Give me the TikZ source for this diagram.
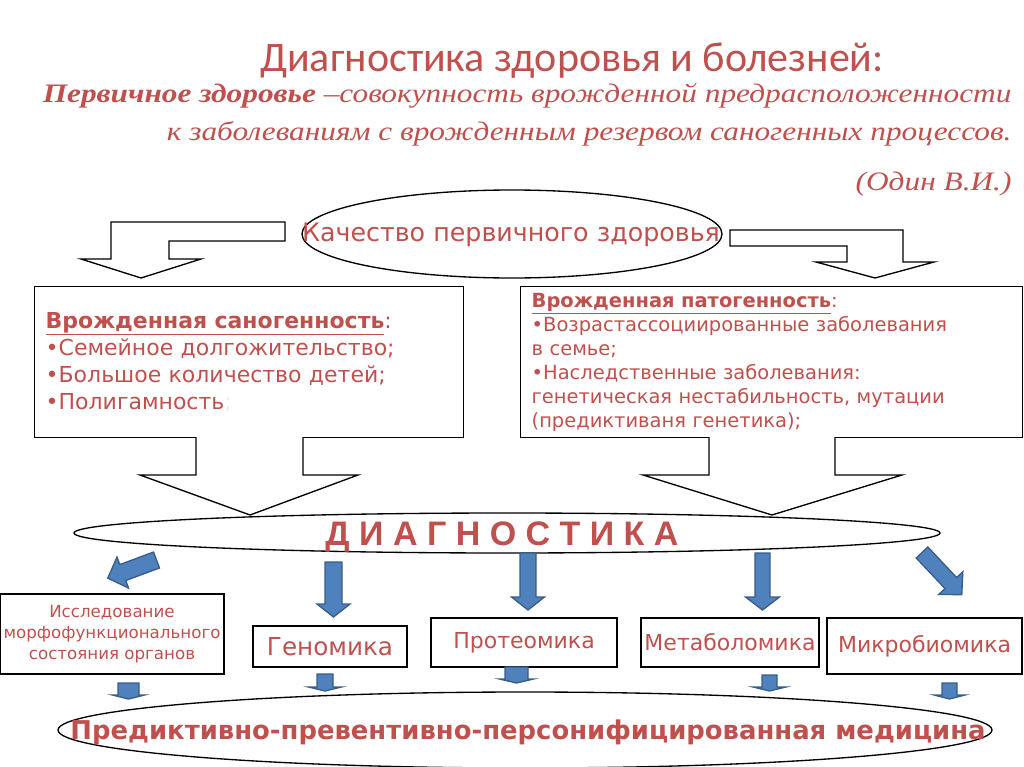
\documentclass[tikz,border=0pt]{standalone}
\usepackage{fontspec}
\setmainfont{DejaVu Sans}
\newfontfamily\titlefont{Carlito}
\newfontfamily\quotefont[FakeStretch=1.175]{Liberation Serif}
\newfontfamily\capsfont{Liberation Sans}
\usetikzlibrary{shapes.geometric}

\definecolor{txtred}{RGB}{192,80,77}
\definecolor{arrblue}{RGB}{79,129,189}
\definecolor{arredge}{RGB}{56,93,138}

\tikzset{every picture/.style={line width=0.75pt}}
\tikzset{
  box/.style={draw, line width=1pt, inner sep=0pt, text=txtred},
  oval/.style={draw, ellipse, line width=1pt, inner sep=0pt},
  hollow/.style={draw, fill=white, line width=1pt, line join=miter},
  bluearr/.style={draw=arredge, fill=arrblue, line width=1pt, line join=miter},
  pics/blockarr/.style n args={4}{code={
    \draw[bluearr] (0,-#2) -- (#1-#4,-#2) -- (#1-#4,-#3) -- (#1,0) -- (#1-#4,#3) -- (#1-#4,#2) -- (0,#2) -- cycle;
  }},
}

\begin{document}
\begin{tikzpicture}[x=0.75pt,y=0.75pt,yscale=-1,xscale=1]
	\useasboundingbox (0,0) rectangle (1024,767);

	% Text Node
	\node[text=txtred, font=\titlefont\fontsize{31.5}{36}\selectfont] (title) at (572,61) {Диагностика здоровья и болезней:};
	% Text Node
	\node[anchor=east, inner sep=0pt, text=txtred, font=\quotefont\itshape\fontsize{20}{24}\selectfont] (def1) at (1012,96) {\textbf{Первичное здоровье} –совокупность врожденной предрасположенности};
	% Text Node
	\node[anchor=east, inner sep=0pt, text=txtred, font=\quotefont\itshape\fontsize{20}{24}\selectfont] (def2) at (1012,134) {к заболеваниям с врожденным резервом саногенных процессов.};
	% Text Node
	\node[anchor=east, inner sep=0pt, text=txtred, font=\quotefont\itshape\fontsize{20}{24}\selectfont] (author) at (1012,184) {(Один В.И.)};

	%Shape: Ellipse
	\node[oval, minimum width=315pt, minimum height=66pt] (quality) at (512,234) {};
	% Text Node
	\node[text=txtred, font=\fontsize{19}{22}\selectfont] (qualitytxt) at (511,235) {Качество первичного здоровья};

	%Shape: Bent Arrow (left)
	\draw[hollow] (285,222) -- (111,222) -- (111,259) -- (81,259) -- (141,278) -- (201,259) -- (169,259) -- (169,241) -- (285,241) -- cycle;
	%Shape: Bent Arrow (right)
	\draw[hollow] (730,230) -- (903,230) -- (903,262) -- (934,262) -- (875,278) -- (816,262) -- (847,262) -- (847,246) -- (730,246) -- cycle;

	%Shape: Rectangle
	\node[box, anchor=north west, text width=305.25pt, inner xsep=8.25pt, minimum height=113.25pt, align=left, font=\fontsize{16.5}{20.3}\selectfont] (sano) at (34,286) {\underline{\textbf{Врожденная саногенность}}:\\•Семейное долгожительство;\\•Большое количество детей;\\•Полигамность\textcolor{black!8}{;}};
	%Shape: Rectangle
	\node[box, anchor=north west, text width=360pt, inner xsep=8.25pt, minimum height=113.25pt, align=left, font=\fontsize{14.6}{18}\selectfont] (pato) at (520,286) {\underline{\textbf{Врожденная патогенность}}:\\•Возрастассоциированные заболевания\\в семье;\\•Наследственные заболевания:\\генетическая нестабильность, мутации\\(предиктиваня генетика);};

	%Shape: Down Arrow
	\draw[hollow] (196,437) -- (196,475) -- (140,475) -- (250,515) -- (358,475) -- (303,475) -- (303,437);
	%Shape: Down Arrow
	\draw[hollow] (709,437) -- (709,475) -- (643,475) -- (772,515) -- (902,475) -- (835,475) -- (835,437);

	%Shape: Ellipse
	\node[oval, minimum width=649.5pt, minimum height=30pt] (diag) at (507,533) {};
	% Text Node
	\node[text=txtred, font=\capsfont\bfseries\fontsize{25.5}{28}\selectfont] (diagtxt) at (502,537) {Д И А Г Н О С Т И К А};

	%Block Arrows
	\pic[rotate=-159.6] at (156.5,560) {blockarr={52}{8.5}{16.5}{16}};
	\pic[rotate=-90] at (333.5,562) {blockarr={55}{8.5}{16.5}{13}};
	\pic[rotate=-90] at (528,553) {blockarr={57}{8}{16.5}{13}};
	\pic[rotate=-90] at (762.5,553) {blockarr={57}{7.5}{17}{13}};
	\pic[rotate=-46.7] at (922,552.5) {blockarr={58}{8}{16.5}{16}};

	%Shape: Rectangle
	\node[box, minimum width=168pt, minimum height=60pt, align=center, font=\fontsize{12.5}{15.75}\selectfont] (morph) at (112,634) {Исследование\\морфофункционального\\состояния органов};
	%Shape: Rectangle
	\node[box, minimum width=115.5pt, minimum height=30.75pt, font=\fontsize{18.5}{22}\selectfont] (genom) at (330,646.5) {Геномика};
	%Shape: Rectangle
	\node[box, minimum width=139.5pt, minimum height=36.75pt, font=\fontsize{16.5}{20}\selectfont] (proteom) at (524,642.5) {Протеомика};
	%Shape: Rectangle
	\node[box, minimum width=133.5pt, minimum height=36.75pt, font=\fontsize{16.5}{20}\selectfont] (metabol) at (730,642.5) {Метаболомика};
	%Shape: Rectangle
	\node[box, minimum width=146.25pt, minimum height=42pt, font=\fontsize{16.5}{20}\selectfont] (microb) at (924.5,646) {Микробиомика};

	%Block Arrows (small)
	\pic[rotate=-90] at (128.5,683) {blockarr={16}{10.5}{16}{4}};
	\pic[rotate=-90] at (325,674) {blockarr={17}{8}{16.5}{4}};
	\pic[rotate=-90] at (516.5,667) {blockarr={16}{11.5}{17}{4}};
	\pic[rotate=-90] at (769.5,675) {blockarr={16}{7.5}{16.5}{4}};
	\pic[rotate=-90] at (949.5,683) {blockarr={16}{7.5}{15.5}{4}};

	%Shape: Ellipse
	\node[oval, minimum width=700.5pt, minimum height=57pt] (ppp) at (525,730) {};
	% Text Node
	\node[text=txtred, font=\bfseries\fontsize{19.4}{22}\selectfont] (ppptxt) at (528,732) {Предиктивно-превентивно-персонифицированная медицина};

\end{tikzpicture}
\end{document}
